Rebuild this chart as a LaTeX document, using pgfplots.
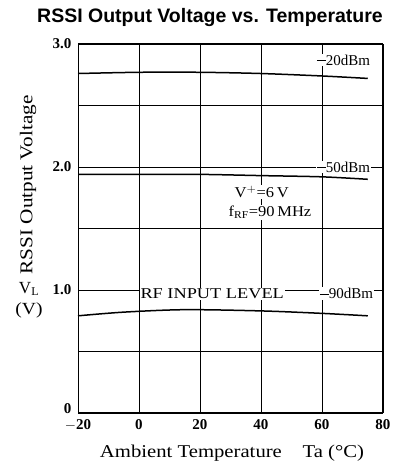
\documentclass[border=0pt]{standalone}
\usepackage{pgfplots}
\pgfplotsset{compat=1.18}
\usepackage{fontspec}
\setmainfont{Liberation Serif}
\newfontfamily\titlefont{Liberation Sans}
\begin{document}
\begin{tikzpicture}[x=1pt,y=1pt]
\useasboundingbox (0,0) rectangle (418,471);
\begin{axis}[
  at={(78pt,58pt)}, anchor=south west,
  scale only axis,
  width=305pt, height=369pt,
  xmin=-20, xmax=80, ymin=0, ymax=3,
  xtick={-20,0,...,80},
  xticklabels={$-$20,0,20,40,60,80},
  ytick={0,1,2,3},
  yticklabels={\raisebox{9pt}{0},1.0,2.0,3.0},
  minor ytick={0.5,1.5,2.5},
  grid=both,
  major grid style={black, line width=0.9pt},
  minor grid style={black, line width=0.9pt},
  axis line style={black, line width=1pt},
  tick style={draw=none},
  ticklabel style={font=\fontsize{15}{17}\selectfont\bfseries},
  xticklabel style={yshift=-3pt},
  yticklabel style={xshift=-3pt},
  clip=false,
]
\addplot[black, line width=1.5pt, smooth] coordinates {
  (-20,2.76) (0,2.77) (20,2.77) (40,2.76) (60,2.74) (75,2.72)};
\addplot[black, line width=1.5pt, smooth] coordinates {
  (-20,1.94) (0,1.94) (20,1.94) (40,1.93) (60,1.92) (75,1.90)};
\addplot[black, line width=1.5pt, smooth] coordinates {
  (-20,0.79) (-5,0.82) (15,0.84) (40,0.83) (60,0.81) (75,0.79)};
\node[font=\fontsize{15}{17}\selectfont, fill=white, inner sep=1pt] at (axis cs:67,2.87) {\rule[0.3em]{0.6em}{0.5pt}20dBm};
\node[font=\fontsize{15}{17}\selectfont, fill=white, inner sep=1pt] at (axis cs:67,2.0) {\rule[0.3em]{0.6em}{0.5pt}50dBm};
\node[font=\fontsize{15}{17}\selectfont, fill=white, inner sep=1pt] at (axis cs:68,0.97) {\rule[0.3em]{0.6em}{0.5pt}90dBm};
\node[font=\fontsize{15}{17}\selectfont, fill=white, inner sep=1pt] at (axis cs:24,0.97) {\scalebox{1.22}[1]{RF INPUT LEVEL}};
\node[font=\fontsize{15}{17}\selectfont, fill=white, inner sep=1pt, anchor=west] at (axis cs:31,1.80) {\scalebox{1.1}[1]{V$^{+}$=6\,V}};
\node[font=\fontsize{15}{17}\selectfont, fill=white, inner sep=1pt, anchor=west] at (axis cs:29,1.63) {\scalebox{1.1}[1]{f$_{\mathrm{RF}}$=90\,MHz}};
\end{axis}
\node[font=\titlefont\bfseries\fontsize{19.5}{22}\selectfont] at (210,453) {RSSI Output Voltage vs. Temperature};
\node[font=\fontsize{18}{20}\selectfont] at (232,18) {\scalebox{1.15}[1]{Ambient Temperature\quad Ta (\textdegree C)}};
\node[font=\fontsize{18}{20}\selectfont, rotate=90] at (28,286) {\scalebox{1.18}[1]{RSSI Output Voltage}};
\node[font=\fontsize{17}{19}\selectfont] at (29,182) {V$_{\mathrm{L}}$};
\node[font=\fontsize{17}{19}\selectfont] at (29,161) {\scalebox{1.15}[1]{(V)}};
\end{tikzpicture}
\end{document}
